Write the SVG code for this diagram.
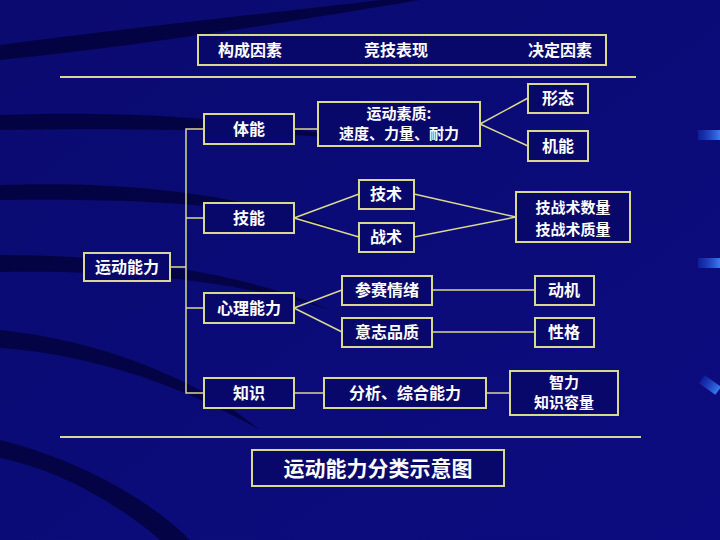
<svg xmlns="http://www.w3.org/2000/svg" width="720" height="540" viewBox="0 0 720 540">
<defs>
<linearGradient id="bg" x1="0" y1="0" x2="1" y2="1"><stop offset="0" stop-color="#0a0a70"/><stop offset="1" stop-color="#0c0c80"/></linearGradient>
<linearGradient id="sq" x1="0" x2="1"><stop offset="0" stop-color="#1a4ad8" stop-opacity="0.3"/><stop offset="1" stop-color="#3a7af0"/></linearGradient>
</defs>
<style>
.b{fill:#08086a;stroke:#d8d890;stroke-width:2}
.t{font-family:"Noto Sans CJK SC",sans-serif;font-weight:bold;font-size:16px;fill:#fff;text-anchor:middle}
.m{font-size:15px}
.c{stroke:#d8d890;stroke-width:1.5;fill:none}
.s{fill:#000030;opacity:0.7}
</style>
<rect width="720" height="540" fill="url(#bg)"/>
<path class="s" d="M0 45 C150 25 300 10 380 0 L420 0 C300 20 150 45 0 60Z"/>
<path class="s" d="M0 115 C150 110 250 120 360 140 C250 130 150 128 0 130Z"/>
<path class="s" d="M0 185 C150 180 260 200 340 230 C250 205 150 198 0 200Z"/>
<path class="s" d="M0 255 C150 255 260 280 330 310 C250 285 150 270 0 272Z"/>
<path class="s" d="M0 330 C100 340 200 380 260 430 C190 390 100 355 0 348Z"/>
<path class="s" d="M0 440 C80 460 150 500 190 540 L160 540 C120 505 60 470 0 458Z"/>
<rect x="698" y="130" width="22" height="10" fill="url(#sq)"/>
<rect x="698" y="258" width="22" height="10" fill="url(#sq)"/>
<rect x="700" y="380" width="20" height="10" fill="url(#sq)" transform="rotate(35 710 385)"/>
<g id="connectors">
<line x1="60" y1="77" x2="636" y2="77" stroke="#d8d890" stroke-width="2"/>
<line x1="60" y1="437" x2="641" y2="437" stroke="#d8d890" stroke-width="2"/>
<path class="c" d="M204 129H186V393H204M186 218H204M186 308H204M170 267H186"/>
<path class="c" d="M294 129H318M480 124L528 98M480 124L528 146"/>
<path class="c" d="M294 218L359 194M294 218L359 237M414 194L516 217M414 237L516 217"/>
<path class="c" d="M294 308L342 290M294 308L342 332M432 290H535M432 332H535"/>
<path class="c" d="M294 393H324M486 393H510"/>
</g>
<g id="header"><rect class="b" x="198" y="35" width="408" height="30"/>
<text class="t" x="250" y="56">构成因素</text><text class="t" x="396" y="56">竞技表现</text><text class="t" x="560" y="56">决定因素</text></g>
<g id="n1"><rect class="b" x="204" y="114" width="90" height="30"/><text class="t" x="249" y="135">体能</text></g>
<g id="n2"><rect class="b" x="318" y="102" width="162" height="44"/><text class="t m" x="399" y="119">运动素质:</text><text class="t m" x="399" y="139">速度、力量、耐力</text></g>
<g id="n3"><rect class="b" x="528" y="84" width="60" height="29"/><text class="t" x="558" y="104">形态</text></g>
<g id="n4"><rect class="b" x="528" y="131" width="60" height="30"/><text class="t" x="558" y="152">机能</text></g>
<g id="n5"><rect class="b" x="359" y="180" width="55" height="29"/><text class="t" x="386" y="200">技术</text></g>
<g id="n6"><rect class="b" x="359" y="223" width="55" height="29"/><text class="t" x="386" y="243">战术</text></g>
<g id="n7"><rect class="b" x="516" y="192" width="114" height="50"/><text class="t m" x="573" y="213">技战术数量</text><text class="t m" x="573" y="235">技战术质量</text></g>
<g id="n8"><rect class="b" x="204" y="203" width="90" height="30"/><text class="t" x="249" y="224">技能</text></g>
<g id="n9"><rect class="b" x="84" y="253" width="86" height="28"/><text class="t" x="127" y="273">运动能力</text></g>
<g id="n10"><rect class="b" x="204" y="293" width="90" height="30"/><text class="t" x="249" y="314">心理能力</text></g>
<g id="n11"><rect class="b" x="342" y="276" width="90" height="29"/><text class="t" x="387" y="296">参赛情绪</text></g>
<g id="n12"><rect class="b" x="342" y="318" width="90" height="29"/><text class="t" x="387" y="338">意志品质</text></g>
<g id="n13"><rect class="b" x="535" y="276" width="59" height="29"/><text class="t" x="564" y="296">动机</text></g>
<g id="n14"><rect class="b" x="535" y="318" width="59" height="29"/><text class="t" x="564" y="338">性格</text></g>
<g id="n15"><rect class="b" x="204" y="378" width="90" height="30"/><text class="t" x="249" y="399">知识</text></g>
<g id="n16"><rect class="b" x="324" y="378" width="162" height="30"/><text class="t" x="405" y="399">分析、综合能力</text></g>
<g id="n17"><rect class="b" x="510" y="371" width="108" height="44"/><text class="t m" x="564" y="388">智力</text><text class="t m" x="564" y="408">知识容量</text></g>
<g id="title"><rect class="b" x="252" y="450" width="252" height="36"/><text class="t" x="378" y="476" style="font-size:21px">运动能力分类示意图</text></g>
</svg>
